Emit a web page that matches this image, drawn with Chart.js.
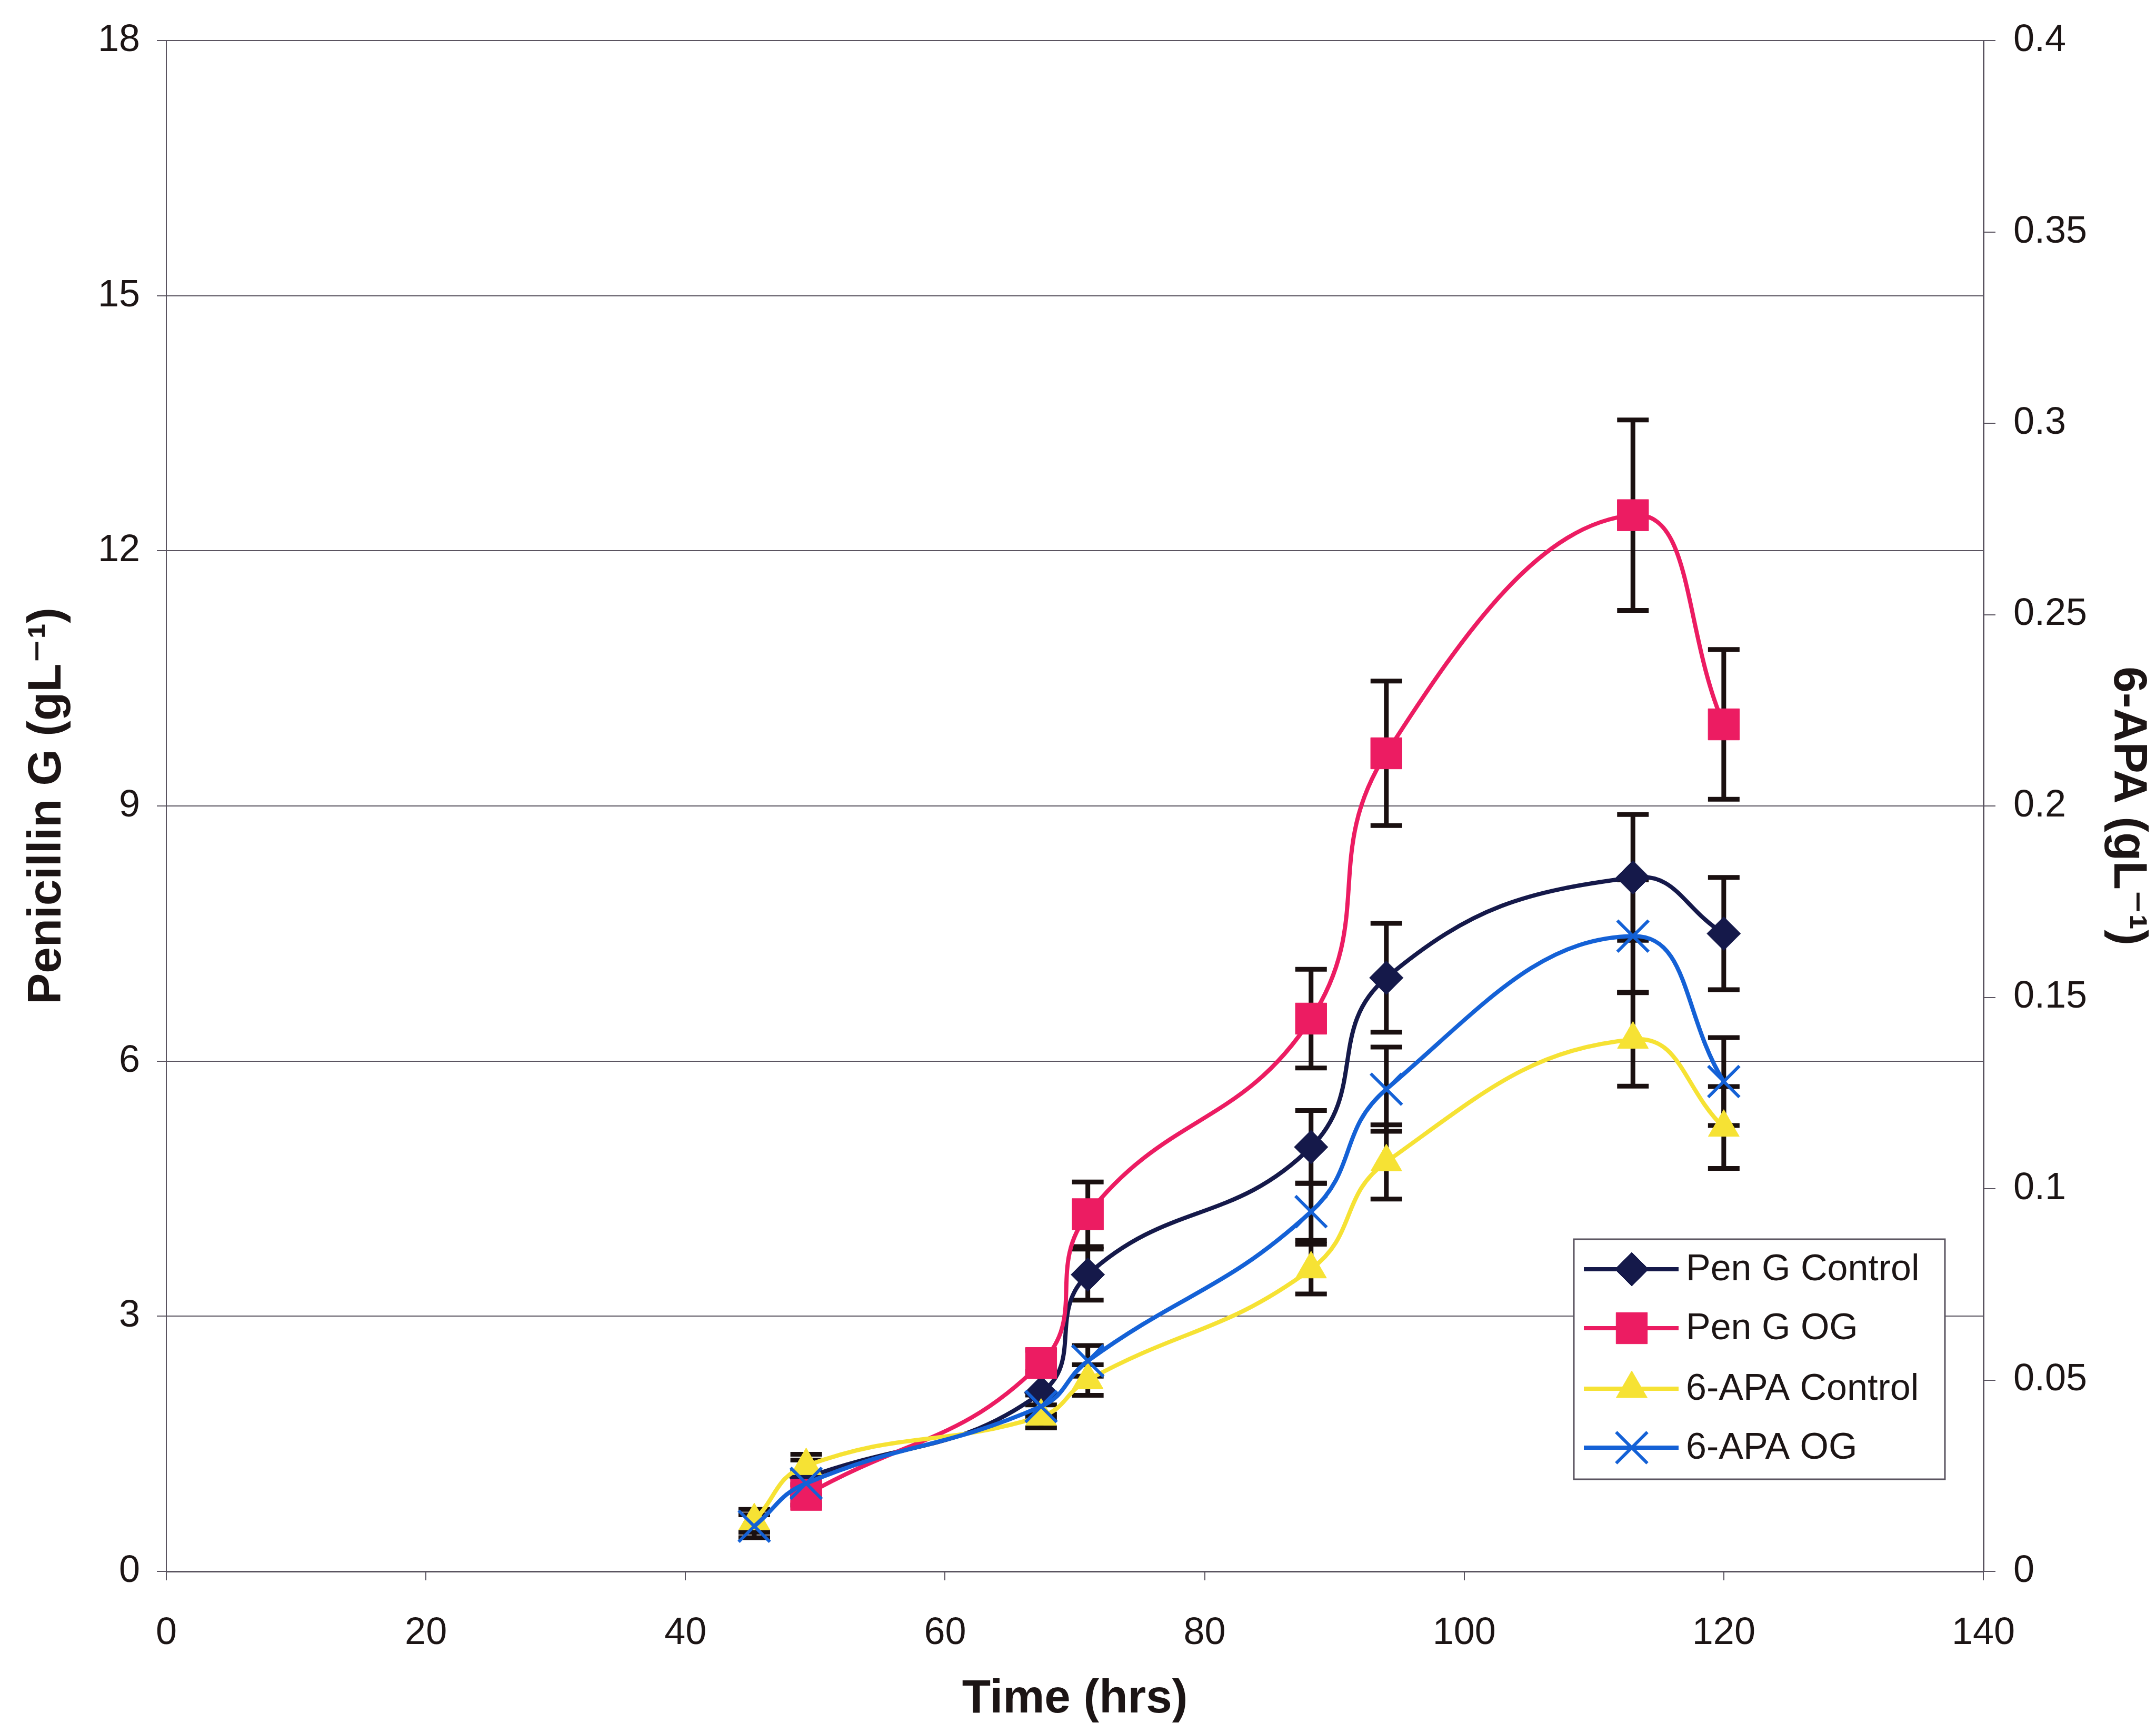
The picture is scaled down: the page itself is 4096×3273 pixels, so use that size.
<!DOCTYPE html>
<html>
<head>
<meta charset="utf-8">
<script src="https://cdn.jsdelivr.net/npm/chart.js@4.4.0/dist/chart.umd.min.js"></script>
<style>
    html, body { margin: 0; padding: 0; background: #ffffff; }
    #wrap { width: 4096px; height: 3273px; }
</style>
</head>
<body>
<div id="wrap"><canvas id="penChart" width="4096" height="3273"></canvas></div>
<script>
// Sampling times (hrs)
const times = [45.3, 49.3, 67.4, 71, 88.2, 94, 113, 120];

// Penicillin G (gL-1), left axis
const penGControl = [null, 1.10, 2.10, 3.49, 4.99, 6.98, 8.16, 7.50];
const penGOG = [null, 0.90, 2.45, 4.20, 6.50, 9.62, 12.42, 9.96];

// 6-APA (gL-1), right axis
const apaControl = [0.0132, 0.0276, 0.0405, 0.050, 0.079, 0.107, 0.139, 0.116];
const apaOG = [0.0118, 0.023, 0.0431, 0.055, 0.094, 0.126, 0.166, 0.128];

// Error bar half heights, same units as each series
const penGControlErr = [null, 0.21, 0.25, 0.30, 0.43, 0.64, 0.74, 0.66];
const penGOGErr = [null, 0.12, 0.15, 0.38, 0.58, 0.85, 1.12, 0.88];
const apaControlErr = [0.003, 0.003, 0.003, 0.004, 0.0065, 0.0097, 0.0122, 0.0107];
const apaOGErr = [0.003, 0.003, 0.003, 0.004, 0.0075, 0.011, 0.0147, 0.0115];

// Tick values
const xTicks = [0, 20, 40, 60, 80, 100, 120, 140];
const leftTicks = [0, 3, 6, 9, 12, 15, 18];
const rightTicks = [0, 0.05, 0.1, 0.15, 0.2, 0.25, 0.3, 0.35, 0.4];

const labels = ['Pen G Control', 'Pen G OG', '6-APA Control', '6-APA OG'];

const FONT = "'Liberation Sans', Arial, 'DejaVu Sans', sans-serif";
const TEXT = '#1c1515';
const GRID = '#5a5460';

// Chart area edges (canvas px)
const AREA = {left: 316, right: 3768, top: 76, bottom: 2985};

function pts(values) {
    return values.map((v, i) => ({x: times[i], y: v}));
}

const errorSets = [penGControlErr, penGOGErr, apaControlErr, apaOGErr];

// Black error bars with caps, drawn under the lines
const errorBars = {
    id: 'errorBars',
    beforeDatasetsDraw(chart) {
        const ctx = chart.ctx;
        const xs = chart.scales.x;
        ctx.save();
        ctx.strokeStyle = '#1a1010';
        ctx.lineWidth = 9;
        ctx.lineCap = 'butt';
        chart.data.datasets.forEach((ds, d) => {
            const ys = chart.scales[ds.yAxisID];
            errorSets[d].forEach((e, i) => {
                const v = ds.data[i].y;
                if (v == null || e == null)
                    return;
                const x = xs.getPixelForValue(times[i]);
                const top = ys.getPixelForValue(v + e);
                const bot = ys.getPixelForValue(v - e);
                ctx.beginPath();
                ctx.moveTo(x, top);
                ctx.lineTo(x, bot);
                ctx.moveTo(x - 30, top);
                ctx.lineTo(x + 30, top);
                ctx.moveTo(x - 30, bot);
                ctx.lineTo(x + 30, bot);
                ctx.stroke();
            });
        });
        ctx.restore();
    }
};

// Boxed legend inside the plot, lower right
const boxLegend = {
    id: 'boxLegend',
    afterDraw(chart) {
        const ctx = chart.ctx;
        const box = {x: 2990, y: 2354, w: 705, h: 456};
        const rows = [2411, 2523, 2638, 2750];
        ctx.save();
        ctx.fillStyle = '#ffffff';
        ctx.fillRect(box.x, box.y, box.w, box.h);
        ctx.strokeStyle = GRID;
        ctx.lineWidth = 3;
        ctx.strokeRect(box.x, box.y, box.w, box.h);
        chart.data.datasets.forEach((ds, i) => {
            const y = rows[i];
            ctx.strokeStyle = ds.borderColor;
            ctx.lineWidth = 8;
            ctx.beginPath();
            ctx.moveTo(3009, y);
            ctx.lineTo(3189, y);
            ctx.stroke();
            ctx.fillStyle = ds.pointBackgroundColor;
            ctx.strokeStyle = ds.pointBorderColor;
            ctx.lineWidth = ds.pointBorderWidth;
            Chart.helpers.drawPoint(ctx, {
                pointStyle: ds.pointStyle,
                radius: ds.pointRadius,
                rotation: 0,
                borderWidth: ds.pointBorderWidth
            }, 3100, y);
            ctx.fillStyle = TEXT;
            ctx.font = '70px ' + FONT;
            ctx.textBaseline = 'middle';
            ctx.textAlign = 'left';
            ctx.fillText(ds.label, 3203, y + 2);
        });
        ctx.restore();
    }
};

// later series sit on top, as in the original
function series(label, values, color, style, radius, axis, borderWidth, order) {
    return {
        label: label,
        data: pts(values),
        yAxisID: axis,
        order: order,
        borderColor: color,
        backgroundColor: color,
        borderWidth: 8,
        tension: 0.45,
        spanGaps: false,
        pointStyle: style,
        pointRadius: radius,
        pointHoverRadius: radius,
        pointBackgroundColor: color,
        pointBorderColor: color,
        pointBorderWidth: borderWidth,
        fill: false
    };
}

const ctx = document.getElementById('penChart').getContext('2d');

new Chart(ctx, {
    type: 'line',
    data: {
        datasets: [
            series(labels[0], penGControl, '#15194a', 'rectRot', 32, 'y', 1, 4),
            series(labels[1], penGOG, '#ec1c62', 'rect', 42, 'y', 1, 3),
            series(labels[2], apaControl, '#f6e234', 'triangle', 34, 'y2', 1, 2),
            series(labels[3], apaOG, '#1461d6', 'crossRot', 42, 'y2', 6, 1)
        ]
    },
    options: {
        responsive: false,
        animation: false,
        devicePixelRatio: 1,
        layout: {padding: {top: AREA.top, left: 0, right: 0, bottom: 0}},
        plugins: {
            legend: {display: false},
            tooltip: {enabled: false}
        },
        scales: {
            x: {
                type: 'linear',
                position: 'bottom',
                min: 0,
                max: 140,
                afterBuildTicks: s => { s.ticks = xTicks.map(v => ({value: v})); },
                afterFit: s => { s.height = 3273 - AREA.bottom; },
                grid: {drawOnChartArea: false, drawTicks: true, tickLength: 17, color: GRID, lineWidth: 2},
                border: {display: true, color: GRID, width: 3},
                ticks: {font: {family: FONT, size: 72}, color: TEXT, padding: 58, maxRotation: 0},
                title: {
                    display: true,
                    text: 'Time (hrs)',
                    color: TEXT,
                    font: {family: FONT, size: 89, weight: 'bold', lineHeight: 1},
                    padding: {top: 0, bottom: 0}
                }
            },
            y: {
                type: 'linear',
                position: 'left',
                min: 0,
                max: 18,
                afterBuildTicks: s => { s.ticks = leftTicks.map(v => ({value: v})); },
                afterFit: s => { s.width = AREA.left; },
                grid: {color: GRID, lineWidth: 2, tickLength: 18},
                border: {display: true, color: GRID, width: 2},
                ticks: {font: {family: FONT, size: 72}, color: TEXT, padding: 32},
                title: {
                    display: true,
                    text: 'Penicillin G (gL\u207B\u00B9)',
                    color: TEXT,
                    font: {family: FONT, size: 89, weight: 'bold', lineHeight: 1},
                    padding: {top: 46, bottom: 0}
                }
            },
            y2: {
                type: 'linear',
                position: 'right',
                min: 0,
                max: 0.4,
                afterBuildTicks: s => { s.ticks = rightTicks.map(v => ({value: v})); },
                afterFit: s => { s.width = 4096 - AREA.right; },
                grid: {drawOnChartArea: false, drawTicks: true, tickLength: 23, color: GRID, lineWidth: 2},
                border: {display: true, color: GRID, width: 3},
                ticks: {
                    font: {family: FONT, size: 72},
                    color: TEXT,
                    padding: 34,
                    callback: v => String(+v.toFixed(2))
                },
                title: {
                    display: true,
                    text: '6-APA (gL\u207B\u00B9)',
                    color: TEXT,
                    font: {family: FONT, size: 89, weight: 'bold', lineHeight: 1},
                    padding: {top: 10, bottom: 0}
                }
            }
        }
    },
    plugins: [errorBars, boxLegend]
});
</script>
</body>
</html>
